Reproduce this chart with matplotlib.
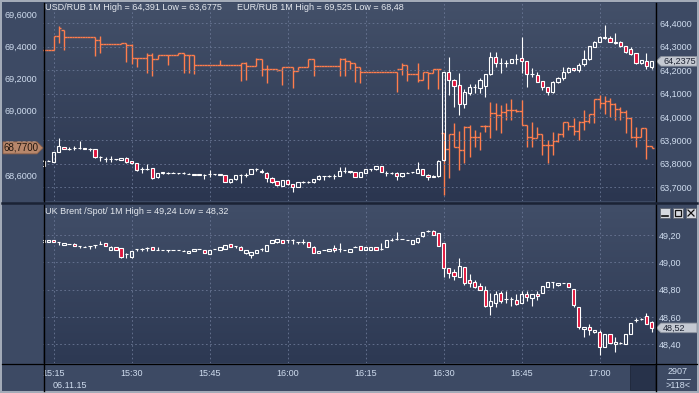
import numpy as np
import matplotlib.pyplot as plt
from matplotlib.patches import Polygon, Rectangle
from matplotlib.lines import Line2D
from matplotlib.ticker import FuncFormatter

plt.rcParams['font.family'] = ['Liberation Sans', 'DejaVu Sans']

# ---- data -------------------------------------------------------------
start_time = '15:13'
time_labels = ['15:15', '15:30', '15:45', '16:00', '16:15', '16:30', '16:45', '17:00']
date_label = '06.11.15'

usd_title = 'USD/RUB 1M High = 64,391 Low = 63,6775'
eur_title = 'EUR/RUB 1M High = 69,525 Low = 68,48'
brent_title = 'UK Brent /Spot/ 1M High = 49,24 Low = 48,32'

usd_ticks = [63.7, 63.8, 63.9, 64.0, 64.1, 64.2, 64.3, 64.4]
eur_ticks = [68.6, 68.8, 69.0, 69.2, 69.4, 69.6]
brent_ticks = [48.4, 48.6, 48.8, 49.0, 49.2]

usd_last = 64.2375
eur_last = 68.77
brent_last = 48.52
bar_count = 2907
bars_shown = 118

# (open, high, low, close) per minute
usd_ohlc = [
    (63.790, 63.814, 63.790, 63.813), (63.813, 63.815, 63.811, 63.813), (63.809, 63.850, 63.808, 63.849),
    (63.849, 63.911, 63.848, 63.877), (63.871, 63.873, 63.862, 63.863), (63.863, 63.871, 63.857, 63.863),
    (63.866, 63.874, 63.857, 63.866), (63.866, 63.897, 63.863, 63.866), (63.866, 63.867, 63.862, 63.864),
    (63.862, 63.868, 63.853, 63.862), (63.862, 63.863, 63.826, 63.827), (63.827, 63.834, 63.812, 63.827),
    (63.822, 63.830, 63.807, 63.820), (63.820, 63.831, 63.807, 63.820), (63.820, 63.822, 63.817, 63.819),
    (63.816, 63.826, 63.814, 63.824), (63.824, 63.830, 63.802, 63.809), (63.810, 63.812, 63.800, 63.802),
    (63.803, 63.804, 63.770, 63.773), (63.776, 63.787, 63.759, 63.776), (63.776, 63.799, 63.773, 63.776),
    (63.780, 63.782, 63.735, 63.739), (63.742, 63.760, 63.740, 63.759), (63.759, 63.763, 63.757, 63.763),
    (63.760, 63.763, 63.757, 63.760), (63.762, 63.763, 63.759, 63.760), (63.759, 63.762, 63.756, 63.759),
    (63.759, 63.763, 63.756, 63.759), (63.757, 63.760, 63.754, 63.757), (63.756, 63.757, 63.752, 63.753),
    (63.754, 63.756, 63.750, 63.751), (63.753, 63.756, 63.736, 63.753), (63.754, 63.773, 63.745, 63.754),
    (63.754, 63.757, 63.750, 63.754), (63.754, 63.756, 63.752, 63.753), (63.752, 63.753, 63.720, 63.722),
    (63.722, 63.735, 63.719, 63.733), (63.733, 63.753, 63.730, 63.752), (63.753, 63.754, 63.719, 63.753),
    (63.753, 63.762, 63.745, 63.753), (63.756, 63.778, 63.755, 63.776), (63.776, 63.782, 63.770, 63.776),
    (63.770, 63.776, 63.762, 63.764), (63.762, 63.763, 63.723, 63.740), (63.740, 63.742, 63.718, 63.720),
    (63.725, 63.726, 63.705, 63.708), (63.706, 63.731, 63.704, 63.730), (63.729, 63.731, 63.711, 63.713),
    (63.713, 63.714, 63.6775, 63.702), (63.702, 63.723, 63.700, 63.722), (63.722, 63.726, 63.718, 63.722),
    (63.722, 63.726, 63.718, 63.722), (63.720, 63.734, 63.719, 63.733), (63.733, 63.750, 63.732, 63.749),
    (63.746, 63.749, 63.730, 63.746), (63.747, 63.750, 63.743, 63.747), (63.749, 63.756, 63.733, 63.749),
    (63.749, 63.787, 63.748, 63.769), (63.769, 63.786, 63.760, 63.769), (63.767, 63.768, 63.762, 63.763),
    (63.763, 63.764, 63.744, 63.745), (63.745, 63.766, 63.743, 63.765), (63.762, 63.778, 63.760, 63.777),
    (63.777, 63.779, 63.767, 63.777), (63.776, 63.790, 63.775, 63.789), (63.789, 63.790, 63.763, 63.765),
    (63.759, 63.769, 63.749, 63.759), (63.760, 63.764, 63.757, 63.760), (63.762, 63.763, 63.729, 63.746),
    (63.746, 63.761, 63.745, 63.760), (63.762, 63.763, 63.759, 63.760), (63.763, 63.765, 63.760, 63.763),
    (63.762, 63.807, 63.760, 63.776), (63.776, 63.777, 63.752, 63.753), (63.753, 63.754, 63.730, 63.742),
    (63.744, 63.750, 63.743, 63.747), (63.747, 63.815, 63.745, 63.813), (63.816, 64.193, 63.810, 64.193),
    (64.193, 64.257, 64.094, 64.158), (64.158, 64.160, 64.044, 64.134), (64.136, 64.189, 64.008, 64.054),
    (64.054, 64.118, 64.037, 64.108), (64.104, 64.141, 64.094, 64.129), (64.129, 64.141, 64.101, 64.129),
    (64.125, 64.165, 64.101, 64.158), (64.134, 64.182, 64.086, 64.182), (64.182, 64.279, 64.180, 64.257),
    (64.257, 64.279, 64.215, 64.232), (64.232, 64.250, 64.189, 64.232), (64.232, 64.243, 64.215, 64.232),
    (64.232, 64.248, 64.230, 64.247), (64.247, 64.267, 64.226, 64.247), (64.250, 64.341, 64.186, 64.239),
    (64.239, 64.240, 64.129, 64.182), (64.182, 64.207, 64.172, 64.182), (64.179, 64.193, 64.148, 64.151),
    (64.154, 64.155, 64.115, 64.128), (64.128, 64.129, 64.094, 64.105), (64.105, 64.152, 64.104, 64.151),
    (64.148, 64.169, 64.147, 64.165), (64.165, 64.215, 64.158, 64.193), (64.193, 64.215, 64.186, 64.207),
    (64.207, 64.210, 64.195, 64.199), (64.200, 64.229, 64.193, 64.222), (64.225, 64.286, 64.218, 64.246),
    (64.246, 64.304, 64.245, 64.303), (64.300, 64.325, 64.299, 64.321), (64.320, 64.345, 64.318, 64.341),
    (64.337, 64.391, 64.333, 64.340), (64.338, 64.345, 64.320, 64.322), (64.322, 64.358, 64.312, 64.315),
    (64.321, 64.323, 64.300, 64.304), (64.303, 64.305, 64.275, 64.277), (64.289, 64.298, 64.266, 64.269),
    (64.272, 64.274, 64.226, 64.229), (64.229, 64.245, 64.228, 64.243), (64.240, 64.272, 64.205, 64.217),
    (64.215, 64.240, 64.205, 64.2375),
]

eur_ohlc = [
    (69.376, 69.376, 69.376, 69.376), (69.376, 69.376, 69.376, 69.376), (69.376, 69.463, 69.376, 69.463),
    (69.463, 69.525, 69.417, 69.510), (69.500, 69.500, 69.376, 69.454), (69.454, 69.454, 69.454, 69.454),
    (69.454, 69.454, 69.454, 69.454), (69.454, 69.454, 69.454, 69.454), (69.454, 69.454, 69.454, 69.454),
    (69.454, 69.454, 69.454, 69.454), (69.454, 69.454, 69.341, 69.438), (69.438, 69.463, 69.359, 69.413),
    (69.413, 69.413, 69.413, 69.413), (69.413, 69.413, 69.413, 69.413), (69.413, 69.413, 69.413, 69.413),
    (69.413, 69.421, 69.413, 69.417), (69.417, 69.417, 69.304, 69.405), (69.405, 69.413, 69.289, 69.324),
    (69.324, 69.324, 69.269, 69.324), (69.324, 69.324, 69.324, 69.324), (69.324, 69.359, 69.231, 69.345),
    (69.345, 69.359, 69.217, 69.318), (69.318, 69.345, 69.318, 69.345), (69.345, 69.345, 69.345, 69.345),
    (69.345, 69.345, 69.283, 69.345), (69.345, 69.345, 69.345, 69.345), (69.345, 69.355, 69.345, 69.355),
    (69.355, 69.355, 69.231, 69.345), (69.345, 69.345, 69.231, 69.345), (69.345, 69.345, 69.225, 69.283),
    (69.283, 69.283, 69.283, 69.283), (69.283, 69.283, 69.283, 69.283), (69.283, 69.283, 69.283, 69.283),
    (69.283, 69.283, 69.283, 69.283), (69.283, 69.314, 69.283, 69.283), (69.283, 69.283, 69.283, 69.283),
    (69.283, 69.283, 69.283, 69.283), (69.283, 69.283, 69.283, 69.283), (69.283, 69.297, 69.186, 69.297),
    (69.297, 69.304, 69.190, 69.277), (69.277, 69.277, 69.277, 69.277), (69.277, 69.328, 69.277, 69.318),
    (69.318, 69.318, 69.215, 69.256), (69.256, 69.283, 69.174, 69.256), (69.256, 69.256, 69.256, 69.256),
    (69.256, 69.256, 69.248, 69.252), (69.252, 69.269, 69.159, 69.269), (69.269, 69.269, 69.269, 69.269),
    (69.269, 69.269, 69.138, 69.248), (69.248, 69.269, 69.248, 69.269), (69.269, 69.269, 69.269, 69.269),
    (69.269, 69.318, 69.269, 69.318), (69.318, 69.318, 69.215, 69.277), (69.277, 69.277, 69.277, 69.277),
    (69.277, 69.277, 69.277, 69.277), (69.277, 69.277, 69.277, 69.277), (69.277, 69.277, 69.277, 69.277),
    (69.277, 69.328, 69.215, 69.318), (69.318, 69.328, 69.215, 69.310), (69.310, 69.310, 69.256, 69.293),
    (69.293, 69.293, 69.180, 69.273), (69.273, 69.273, 69.174, 69.238), (69.238, 69.238, 69.238, 69.238),
    (69.238, 69.238, 69.238, 69.238), (69.238, 69.238, 69.238, 69.238), (69.238, 69.238, 69.238, 69.238),
    (69.238, 69.238, 69.238, 69.238), (69.238, 69.238, 69.238, 69.238), (69.238, 69.238, 69.118, 69.256),
    (69.256, 69.293, 69.221, 69.283), (69.283, 69.283, 69.184, 69.227), (69.227, 69.227, 69.227, 69.227),
    (69.227, 69.293, 69.180, 69.190), (69.190, 69.242, 69.190, 69.242), (69.242, 69.242, 69.132, 69.231),
    (69.231, 69.256, 69.231, 69.256), (69.256, 69.256, 69.132, 69.256), (68.860, 68.860, 68.480, 68.761),
    (68.761, 68.854, 68.581, 68.854), (68.854, 68.922, 68.777, 68.777), (68.777, 68.874, 68.633, 68.757),
    (68.757, 68.905, 68.674, 68.901), (68.901, 68.911, 68.715, 68.839), (68.839, 68.881, 68.777, 68.839),
    (68.839, 68.870, 68.757, 68.905), (68.905, 68.911, 68.870, 68.905), (68.905, 69.056, 68.829, 68.984),
    (68.984, 69.046, 68.881, 68.973), (68.973, 69.035, 68.860, 68.990), (68.990, 69.046, 68.942, 69.004),
    (69.004, 69.070, 68.942, 69.004), (69.004, 69.008, 68.994, 68.998), (68.998, 69.066, 68.911, 68.911),
    (68.911, 68.911, 68.777, 68.839), (68.839, 68.928, 68.777, 68.833), (68.833, 68.901, 68.829, 68.854),
    (68.854, 68.854, 68.726, 68.788), (68.788, 68.819, 68.678, 68.788), (68.788, 68.870, 68.726, 68.815),
    (68.815, 68.860, 68.808, 68.854), (68.854, 68.932, 68.839, 68.932), (68.932, 68.932, 68.881, 68.905),
    (68.905, 68.953, 68.850, 68.877), (68.877, 68.938, 68.819, 68.932), (68.932, 69.004, 68.881, 68.937),
    (68.937, 68.980, 68.926, 68.980), (68.980, 69.070, 68.922, 69.070), (69.070, 69.097, 69.017, 69.050),
    (69.050, 69.090, 68.980, 69.060), (69.060, 69.080, 68.960, 69.040), (69.040, 69.050, 68.940, 69.010),
    (69.010, 69.025, 68.942, 68.994), (68.994, 69.004, 68.860, 68.953), (68.953, 68.959, 68.833, 68.835),
    (68.835, 68.901, 68.777, 68.835), (68.835, 68.891, 68.835, 68.891), (68.891, 68.891, 68.699, 68.781),
    (68.781, 68.781, 68.770, 68.770),
]

brent_ohlc = [
    (49.146, 49.163, 49.146, 49.163), (49.146, 49.166, 49.146, 49.166), (49.163, 49.164, 49.148, 49.150),
    (49.146, 49.147, 49.127, 49.146), (49.127, 49.140, 49.127, 49.139), (49.133, 49.134, 49.131, 49.132),
    (49.137, 49.138, 49.120, 49.120), (49.122, 49.123, 49.102, 49.122), (49.115, 49.116, 49.114, 49.115),
    (49.117, 49.118, 49.098, 49.117), (49.127, 49.128, 49.107, 49.127), (49.134, 49.156, 49.132, 49.134),
    (49.139, 49.140, 49.121, 49.122), (49.093, 49.116, 49.092, 49.115), (49.112, 49.113, 49.092, 49.093),
    (49.102, 49.103, 49.034, 49.041), (49.059, 49.066, 49.029, 49.059), (49.041, 49.084, 49.029, 49.083),
    (49.098, 49.099, 49.083, 49.098), (49.098, 49.107, 49.083, 49.098), (49.102, 49.115, 49.083, 49.102),
    (49.110, 49.111, 49.089, 49.090), (49.090, 49.115, 49.089, 49.090), (49.090, 49.091, 49.089, 49.090),
    (49.090, 49.091, 49.078, 49.090), (49.088, 49.089, 49.087, 49.088), (49.088, 49.089, 49.087, 49.088),
    (49.083, 49.093, 49.082, 49.083), (49.071, 49.086, 49.070, 49.085), (49.083, 49.099, 49.082, 49.098),
    (49.100, 49.101, 49.099, 49.100), (49.090, 49.091, 49.070, 49.071), (49.064, 49.089, 49.063, 49.088),
    (49.095, 49.096, 49.094, 49.095), (49.093, 49.113, 49.092, 49.112), (49.098, 49.128, 49.097, 49.127),
    (49.134, 49.135, 49.111, 49.112), (49.120, 49.121, 49.107, 49.120), (49.115, 49.116, 49.092, 49.093),
    (49.071, 49.091, 49.059, 49.090), (49.054, 49.079, 49.034, 49.078), (49.066, 49.091, 49.065, 49.090),
    (49.095, 49.107, 49.083, 49.095), (49.083, 49.128, 49.082, 49.127), (49.139, 49.164, 49.138, 49.163),
    (49.146, 49.169, 49.145, 49.168), (49.163, 49.164, 49.138, 49.139), (49.161, 49.162, 49.139, 49.161),
    (49.161, 49.168, 49.132, 49.161), (49.146, 49.147, 49.137, 49.146), (49.151, 49.168, 49.132, 49.151),
    (49.151, 49.152, 49.114, 49.115), (49.115, 49.116, 49.065, 49.066), (49.066, 49.084, 49.065, 49.083),
    (49.090, 49.091, 49.089, 49.090), (49.083, 49.096, 49.082, 49.095), (49.107, 49.127, 49.078, 49.088),
    (49.098, 49.144, 49.078, 49.098), (49.088, 49.089, 49.087, 49.088), (49.078, 49.096, 49.077, 49.095),
    (49.115, 49.116, 49.114, 49.115), (49.122, 49.123, 49.089, 49.090), (49.090, 49.113, 49.089, 49.112),
    (49.093, 49.113, 49.092, 49.112), (49.112, 49.113, 49.092, 49.093), (49.098, 49.139, 49.088, 49.098),
    (49.112, 49.162, 49.111, 49.161), (49.166, 49.176, 49.156, 49.166), (49.171, 49.220, 49.166, 49.171),
    (49.171, 49.172, 49.170, 49.171), (49.166, 49.167, 49.165, 49.166), (49.132, 49.164, 49.131, 49.163),
    (49.146, 49.177, 49.145, 49.176), (49.190, 49.225, 49.189, 49.224), (49.229, 49.238, 49.220, 49.229),
    (49.229, 49.240, 49.199, 49.200), (49.217, 49.218, 49.121, 49.122), (49.139, 49.140, 48.895, 48.961),
    (48.961, 48.962, 48.883, 48.924), (48.927, 48.949, 48.871, 48.900), (48.895, 49.029, 48.894, 48.975),
    (48.963, 48.964, 48.834, 48.851), (48.871, 48.914, 48.822, 48.851), (48.858, 48.871, 48.815, 48.822),
    (48.827, 48.851, 48.796, 48.797), (48.797, 48.827, 48.670, 48.680), (48.683, 48.773, 48.614, 48.717),
    (48.700, 48.792, 48.670, 48.768), (48.778, 48.790, 48.700, 48.719), (48.729, 48.792, 48.700, 48.729),
    (48.729, 48.749, 48.680, 48.729), (48.724, 48.768, 48.690, 48.695), (48.700, 48.792, 48.699, 48.768),
    (48.768, 48.792, 48.717, 48.744), (48.736, 48.769, 48.680, 48.768), (48.768, 48.792, 48.724, 48.753),
    (48.773, 48.828, 48.772, 48.827), (48.817, 48.859, 48.816, 48.858), (48.856, 48.857, 48.810, 48.853),
    (48.834, 48.852, 48.829, 48.851), (48.851, 48.852, 48.850, 48.851), (48.851, 48.852, 48.816, 48.817),
    (48.805, 48.806, 48.670, 48.688), (48.670, 48.671, 48.509, 48.524), (48.509, 48.525, 48.456, 48.524),
    (48.526, 48.548, 48.468, 48.505), (48.488, 48.506, 48.483, 48.505), (48.487, 48.505, 48.322, 48.378),
    (48.378, 48.476, 48.377, 48.475), (48.475, 48.476, 48.406, 48.407), (48.400, 48.451, 48.346, 48.419),
    (48.412, 48.420, 48.405, 48.412), (48.400, 48.474, 48.399, 48.473), (48.473, 48.559, 48.472, 48.558),
    (48.578, 48.595, 48.561, 48.578), (48.585, 48.590, 48.578, 48.585), (48.610, 48.627, 48.545, 48.546),
    (48.566, 48.567, 48.493, 48.520),
]

# ---- style ------------------------------------------------------------
W, H = 699, 393
FS = 6.5
BORDER = '#a3abb8'
STRIP = '#3d4a64'
TXT = '#e4e8ee'
LBL = '#cfdcee'
ORANGE = '#ff7d4c'
RED = '#e0143c'
GRID = '#6a7795'


def fx(x):
    return x / W


def fy(y):
    return 1 - y / H


def rect(x0, y0, x1, y1):
    return [fx(x0), fy(y1), fx(x1) - fx(x0), fy(y0) - fy(y1)]


def minutes(label):
    hh, mm = label.split(':')
    return int(hh) * 60 + int(mm)


def comma(fmt):
    return FuncFormatter(lambda v, p: format(v, fmt).replace('.', ','))


t0 = minutes(start_time)
xs = np.arange(len(usd_ohlc)) + t0
tick_x = [minutes(t) for t in time_labels]
xlim = (t0 - 0.02, t0 + len(usd_ohlc) - 0.35)

fig = plt.figure(figsize=(W / 100, H / 100), dpi=100, facecolor=BORDER)
bg = fig.add_axes(rect(2, 2, 697, 391))
bg.set_facecolor(STRIP)
bg.set_xticks([])
bg.set_yticks([])
for s in bg.spines.values():
    s.set_visible(False)


def gradient(ax, top, bottom):
    from matplotlib.colors import LinearSegmentedColormap
    cm = LinearSegmentedColormap.from_list('g', [bottom, top])
    ax.imshow(np.linspace(0, 1, 256).reshape(-1, 1), cmap=cm, origin='lower',
              extent=[0, 1, 0, 1], transform=ax.transAxes, aspect='auto', zorder=0)


def draw_candles(ax, x, ohlc, width=0.64):
    o, h, l, c = np.array(ohlc).T
    top = np.maximum(o, c)
    bot = np.minimum(o, c)
    ax.vlines(x, top, h, color='white', lw=0.8, zorder=3)
    ax.vlines(x, l, bot, color='white', lw=0.8, zorder=3)
    up = c >= o
    ax.bar(x[up], (c - o)[up], width, bottom=o[up], facecolor='none',
           edgecolor='white', lw=0.8, zorder=4)
    ax.bar(x[~up], (c - o)[~up], width, bottom=o[~up], facecolor=RED,
           edgecolor='white', lw=0.8, zorder=4)


def draw_ohlc(ax, x, ohlc):
    o, h, l, c = np.array(ohlc).T
    ax.vlines(x, l, h, color=ORANGE, lw=1.0, zorder=2)
    ax.hlines(o, x - 0.5, x, color=ORANGE, lw=1.0, zorder=2)
    ax.hlines(c, x, x + 0.5, color=ORANGE, lw=1.0, zorder=2)


def style_axes(ax):
    for s in ax.spines.values():
        s.set_visible(False)
    ax.set_xlim(*xlim)
    ax.set_xticks(tick_x)


# ---- top panel: EUR (left axis) + USD (right axis) --------------------
ax_eur = fig.add_axes(rect(43, 3, 655, 201))
style_axes(ax_eur)
ax_eur.set_facecolor('none')
ax_eur.set_ylim(68.441, 69.667)
gradient(ax_eur, '#435069', '#2b3650')
draw_ohlc(ax_eur, xs, eur_ohlc)
ax_eur.set_yticks(eur_ticks)
ax_eur.yaxis.set_major_formatter(comma('.4f'))
ax_eur.tick_params(axis='y', length=0, pad=4, labelsize=FS, labelcolor=LBL)
ax_eur.tick_params(axis='x', length=0, labelbottom=False)
ax_eur.grid(axis='x', color=GRID, lw=0.6, ls=(0, (2, 3)))
ax_eur.set_axisbelow(True)

ax_usd = ax_eur.twinx()
style_axes(ax_usd)
ax_usd.set_ylim(63.6406, 64.4868)
draw_candles(ax_usd, xs, usd_ohlc)
ax_usd.set_yticks(usd_ticks)
ax_usd.yaxis.set_major_formatter(comma('.4f'))
ax_usd.tick_params(axis='y', length=0, pad=3, labelsize=FS, labelcolor=LBL)
ax_usd.tick_params(axis='x', length=0, labelbottom=False)
ax_usd.grid(axis='y', color=GRID, lw=0.6, ls=(0, (2, 3)))
ax_usd.set_axisbelow(True)

# ---- bottom panel: Brent ----------------------------------------------
ax_br = fig.add_axes(rect(43, 204, 655, 363))
style_axes(ax_br)
ax_br.set_facecolor('none')
ax_br.set_ylim(48.263, 49.427)
gradient(ax_br, '#414e68', '#2d3953')
draw_candles(ax_br, xs, brent_ohlc)
ax_br.yaxis.tick_right()
ax_br.set_yticks(brent_ticks)
ax_br.yaxis.set_major_formatter(comma('.2f'))
ax_br.tick_params(axis='y', length=0, pad=3, labelsize=FS, labelcolor=LBL)
ax_br.set_xticklabels(time_labels)
ax_br.tick_params(axis='x', length=0, pad=4, labelsize=FS, labelcolor=LBL)
ax_br.grid(color=GRID, lw=0.6, ls=(0, (2, 3)))
ax_br.set_axisbelow(True)

# ---- frame lines ------------------------------------------------------
for x in (43.5, 655.5):
    fig.add_artist(Line2D([fx(x), fx(x)], [fy(3), fy(391)], color='black', lw=1.0))
fig.add_artist(Line2D([fx(2), fx(697)], [fy(202.5), fy(202.5)], color='#1b2335', lw=1.8))
fig.add_artist(Line2D([fx(2), fx(697)], [fy(364), fy(364)], color='black', lw=0.9))
fig.add_artist(Rectangle((fx(630), fy(390)), fx(655) - fx(630), fy(365) - fy(390),
                         facecolor='#27324a', edgecolor='#1e273a', lw=0.6))

# ---- titles -----------------------------------------------------------
fig.text(fx(45), fy(7.5), usd_title, color=TXT, fontsize=FS, va='center', ha='left')
fig.text(fx(237), fy(7.5), eur_title, color=TXT, fontsize=FS, va='center', ha='left')
fig.text(fx(45), fy(211), brent_title, color=TXT, fontsize=FS, va='center', ha='left')
fig.text(fx(70), fy(386), date_label, color=LBL, fontsize=FS, va='center', ha='center')

# ---- price tags -------------------------------------------------------
def tag_right(y, text):
    pts = [(656, y), (661, y - 4.8), (697, y - 4.8), (697, y + 4.8), (661, y + 4.8)]
    fig.add_artist(Polygon([(fx(a), fy(b)) for a, b in pts], closed=True,
                           facecolor='#c4c9d2', edgecolor='#8b929e', lw=0.6))
    fig.text(fx(663), fy(y), text, color='#1c2232', fontsize=FS, va='center', ha='left')


def y_to_px(ax, v):
    disp = ax.transData.transform((xlim[0], v))
    return H - disp[1]


tag_right(y_to_px(ax_usd, usd_last), format(usd_last, '.4f').replace('.', ','))
tag_right(y_to_px(ax_br, brent_last), format(brent_last, '.2f').replace('.', ','))

ye = y_to_px(ax_eur, eur_last)
pts = [(3, ye - 6), (37, ye - 6), (43, ye), (37, ye + 6), (3, ye + 6)]
fig.add_artist(Polygon([(fx(a), fy(b)) for a, b in pts], closed=True,
                       facecolor='#b8876b', edgecolor='#8c6048', lw=0.6))
fig.text(fx(38), fy(ye), format(eur_last, '.4f').replace('.', ','), color='#22160e',
         fontsize=FS + 0.5, va='center', ha='right')

# ---- window buttons ---------------------------------------------------
for x0 in (660, 673, 686):
    fig.add_artist(Rectangle((fx(x0), fy(218)), fx(10), 10 / H, facecolor='#d6d9df',
                             edgecolor='#5d6470', lw=0.6))
fig.add_artist(Line2D([fx(662), fx(668)], [fy(215.5), fy(215.5)], color='#111', lw=1.2))
fig.add_artist(Rectangle((fx(675), fy(216)), fx(6), 6 / H, facecolor='none',
                         edgecolor='#111', lw=0.9))
fig.add_artist(Line2D([fx(688), fx(694)], [fy(210), fy(216)], color='#111', lw=0.9))
fig.add_artist(Line2D([fx(688), fx(694)], [fy(216), fy(210)], color='#111', lw=0.9))

# ---- bar counter ------------------------------------------------------
fig.text(fx(678), fy(372), str(bar_count), color=LBL, fontsize=FS, va='center', ha='center')
fig.add_artist(Line2D([fx(667), fx(690)], [fy(379), fy(379)], color=LBL, lw=0.6))
fig.text(fx(678), fy(386), '>' + str(bars_shown) + '<', color=LBL, fontsize=FS,
         va='center', ha='center')

fig.savefig('out.png', dpi=100, facecolor=fig.get_facecolor())
